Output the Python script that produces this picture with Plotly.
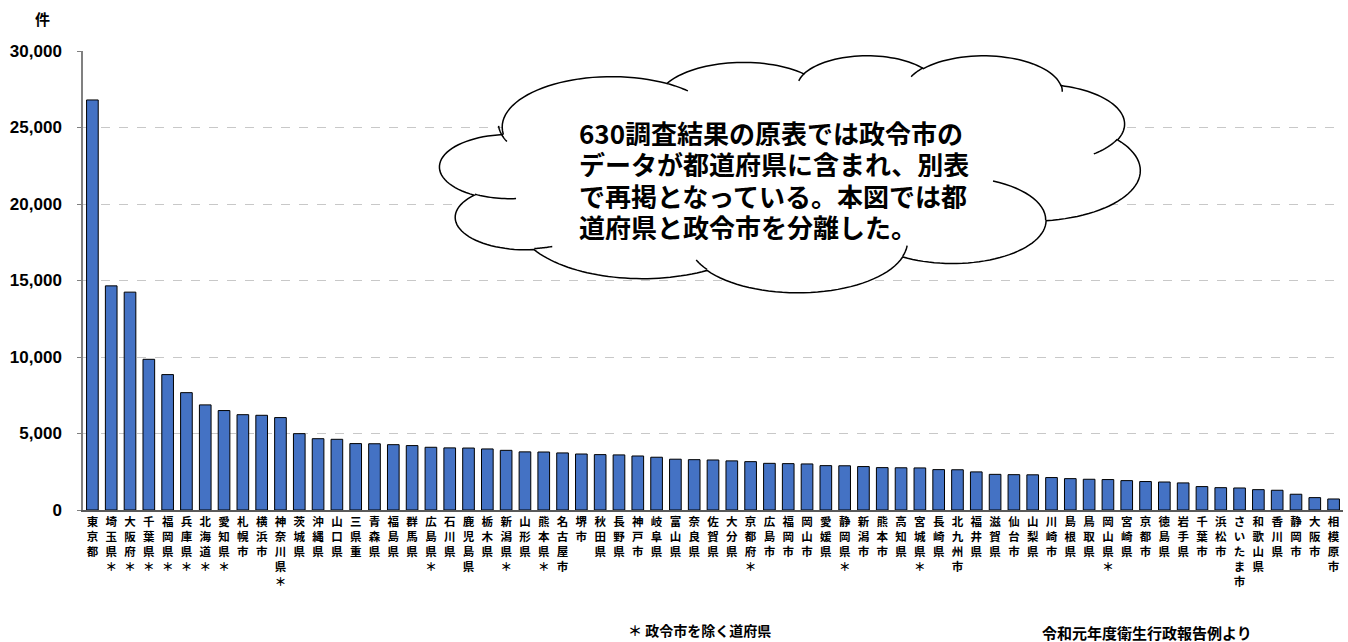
import numpy as np
import plotly.graph_objects as go

# 都道府県・政令市別の件数（多い順）
categories = [
    "東京都", "埼玉県＊", "大阪府＊", "千葉県＊", "福岡県＊", "兵庫県＊", "北海道＊", "愛知県＊",
    "札幌市", "横浜市", "神奈川県＊", "茨城県", "沖縄県", "山口県", "三県重", "青森県",
    "福島県", "群馬県", "広島県＊", "石川県", "鹿児島県", "栃木県", "新潟県＊", "山形県",
    "熊本県＊", "名古屋市", "堺市", "秋田県", "長野県", "神戸市", "岐阜県", "富山県",
    "奈良県", "佐賀県", "大分県", "京都府＊", "広島市", "福岡市", "岡山市", "愛媛県",
    "静岡県＊", "新潟市", "熊本市", "高知県", "宮城県＊", "長崎県", "北九州市", "福井県",
    "滋賀県", "仙台市", "山梨県", "川崎市", "島根県", "鳥取県", "岡山県＊", "宮崎県",
    "京都市", "徳島県", "岩手県", "千葉市", "浜松市", "さいたま市", "和歌山県", "香川県",
    "静岡市", "大阪市", "相模原市",
]
counts = [
    26800, 14650, 14240, 9850, 8850, 7670, 6870, 6500,
    6230, 6190, 6040, 4990, 4660, 4620, 4340, 4330,
    4270, 4210, 4100, 4060, 4050, 3990, 3900, 3800,
    3790, 3730, 3660, 3620, 3600, 3530, 3450, 3320,
    3290, 3270, 3210, 3160, 3050, 3030, 3010, 2900,
    2890, 2840, 2770, 2760, 2750, 2640, 2630, 2490,
    2330, 2310, 2300, 2120, 2050, 2010, 1990, 1920,
    1860, 1830, 1770, 1530, 1460, 1440, 1330, 1290,
    1030, 810, 720,
]
y_ticks = [0, 5000, 10000, 15000, 20000, 25000, 30000]

# 吹き出しの本文（1行ずつ）
note_lines = [
    "630調査結果の原表では政令市の",
    "データが都道府県に含まれ、別表",
    "で再掲となっている。本図では都",
    "道府県と政令市を分離した。",
]

# 縦書きのカテゴリラベル
vertical_labels = ["<br>".join(list(c)) for c in categories]

# plot area in pixels (figure 1348 x 642)
W, H = 1348, 642
L, R, T, B = 83, 5, 51, 132
PW, PH = W - L - R, H - T - B


def to_paper(px, py):
    return (px - L) / PW, (H - B - py) / PH


# --- cloud callout (DrawingML "cloud" preset geometry) ---
CLOUD_START = (3900, 14370)
CLOUD_ARCS = [
    (6753, 9190, -11429249, 7426832),
    (5333, 7267, -8646143, 5396714),
    (4365, 5945, -8748475, 5983381),
    (4857, 6595, -7859164, 7034504),
    (5333, 7273, -4722533, 6541615),
    (6775, 9220, -2776035, 7816140),
    (5785, 7867, 37501, 6842000),
    (6752, 9215, 1347096, 6910353),
    (7720, 10543, 3974558, 4542661),
    (4360, 5918, -16496525, 8804134),
    (4345, 5945, -14809710, 9151131),
]
CLOUD_INNER = [
    ((4693, 26177), (4345, 5945, 5204520, 1585770)),
    ((6928, 34899), (4360, 5918, 4416628, 686848)),
    ((16478, 39090), (6752, 9215, 8257449, 844866)),
    ((28827, 34751), (6752, 9215, 387196, 959901)),
    ((34129, 22954), (5785, 7867, -4217541, 4255042)),
    ((41798, 15354), (5333, 7273, 1819082, 1665090)),
    ((38324, 5426), (4857, 6595, -824660, 891534)),
    ((29078, 3952), (4857, 6595, -8950887, 1091722)),
    ((22141, 4720), (4365, 5945, -9809656, 1061181)),
    ((14000, 5192), (6753, 9190, -4002417, 739161)),
    ((4127, 15789), (6753, 9190, 9000000, 1426912)),
]
CLOUD_BOX = (440, 55, 1140, 292)  # left, top, right, bottom in pixels


def arc_points(x, y, wR, hR, st, sw, steps=36):
    a1 = np.deg2rad(st / 60000.0)
    a2 = np.deg2rad((st + sw) / 60000.0)
    t1 = np.arctan2(wR * np.sin(a1), hR * np.cos(a1))
    t2 = np.arctan2(wR * np.sin(a2), hR * np.cos(a2))
    if sw > 0:
        while t2 <= t1:
            t2 += 2 * np.pi
    else:
        while t2 >= t1:
            t2 -= 2 * np.pi
    cx = x - wR * np.cos(t1)
    cy = y - hR * np.sin(t1)
    t = np.linspace(t1, t2, steps)
    return cx + wR * np.cos(t), cy + hR * np.sin(t)


def geom_to_paper(gx, gy):
    x0, y0, x1, y1 = CLOUD_BOX
    px = x0 + np.asarray(gx) / 43200.0 * (x1 - x0)
    py = y0 + np.asarray(gy) / 43200.0 * (y1 - y0)
    return to_paper(px, py)


def fmt(xs, ys):
    return " L ".join(f"{a:.5f},{b:.5f}" for a, b in zip(xs, ys))


# outer outline
cx, cy = CLOUD_START
xs_all, ys_all = [cx], [cy]
for wR, hR, st, sw in CLOUD_ARCS:
    ax, ay = arc_points(cx, cy, wR, hR, st, sw)
    xs_all.extend(ax[1:])
    ys_all.extend(ay[1:])
    cx, cy = ax[-1], ay[-1]
px_, py_ = geom_to_paper(xs_all, ys_all)
cloud_path = "M " + fmt(px_, py_) + " Z"

# inner fold strokes
inner_parts = []
for (sx, sy), (wR, hR, st, sw) in CLOUD_INNER:
    ax, ay = arc_points(sx, sy, wR, hR, st, sw, steps=16)
    ppx, ppy = geom_to_paper(ax, ay)
    inner_parts.append("M " + fmt(ppx, ppy))
inner_path = " ".join(inner_parts)

fig = go.Figure()
fig.add_trace(go.Bar(
    x=categories,
    y=counts,
    marker=dict(color="#4472C4", line=dict(color="#000000", width=1)),
    width=0.62,
    hoverinfo="x+y",
))

fig.update_layout(
    width=W, height=H,
    margin=dict(l=L, r=R, t=T, b=B, pad=0),
    paper_bgcolor="white",
    plot_bgcolor="white",
    showlegend=False,
    font=dict(family="Liberation Sans, Noto Sans CJK JP", color="#000000"),
    xaxis=dict(
        type="category",
        range=[-0.5, len(categories) - 0.5],
        tickmode="array",
        tickvals=categories,
        ticktext=vertical_labels,
        tickangle=0,
        tickfont=dict(family="Noto Sans CJK JP", size=11.5, color="#000000", weight="bold"),
        showline=True, linecolor="#595959", linewidth=2,
        ticks="", showgrid=False, zeroline=False,
    ),
    yaxis=dict(
        range=[0, 30000],
        tickmode="array",
        tickvals=y_ticks,
        ticktext=[f"{v:,}" for v in y_ticks],
        tickfont=dict(family="Liberation Sans", size=17, color="#000000", weight="bold"),
        showline=True, linecolor="#808080", linewidth=1.5,
        ticks="outside", ticklen=4, tickcolor="#808080",
        showgrid=True, gridcolor="#C8C8C8", gridwidth=1, griddash="dash",
        zeroline=False,
        ticklabelstandoff=12,
    ),
    shapes=[
        dict(type="path", xref="paper", yref="paper", path=cloud_path,
             fillcolor="white", line=dict(color="#000000", width=1.5), layer="above"),
        dict(type="path", xref="paper", yref="paper", path=inner_path,
             fillcolor="rgba(0,0,0,0)", line=dict(color="#000000", width=1.5), layer="above"),
    ],
)

# callout text, one annotation per line
line_top = 116
line_step = 31.3
for i, line in enumerate(note_lines):
    lx, ly = to_paper(577, line_top + i * line_step)
    fig.add_annotation(
        x=lx, y=ly, xref="paper", yref="paper",
        xanchor="left", yanchor="top", align="left", showarrow=False,
        text=line, height=28, valign="middle",
        font=dict(family="Noto Sans CJK JP", size=26, color="#000000", weight="bold"),
    )

unit_x, unit_y = to_paper(42, 18)
fn1_x, fn1_y = to_paper(626, 630)
fn2_x, fn2_y = to_paper(1040, 632)

fig.add_annotation(
    x=unit_x, y=unit_y, xref="paper", yref="paper",
    xanchor="center", yanchor="middle", showarrow=False,
    text="件", font=dict(family="Noto Sans CJK JP", size=15, color="#000000", weight="bold"),
)
fig.add_annotation(
    x=fn1_x, y=fn1_y, xref="paper", yref="paper",
    xanchor="left", yanchor="middle", showarrow=False,
    text="＊ 政令市を除く道府県",
    font=dict(family="Noto Sans CJK JP", size=14, color="#000000", weight="bold"),
)
fig.add_annotation(
    x=fn2_x, y=fn2_y, xref="paper", yref="paper",
    xanchor="left", yanchor="middle", showarrow=False,
    text="令和元年度衛生行政報告例より",
    font=dict(family="Noto Sans CJK JP", size=15, color="#000000", weight="bold"),
)

fig.write_html("out.html")
